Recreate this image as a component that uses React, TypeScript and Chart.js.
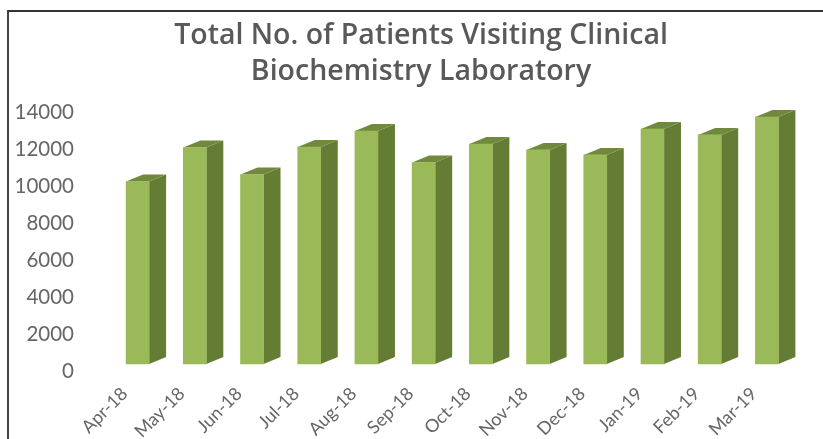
import React, { useEffect, useRef } from "react";
import { Chart, registerables } from "chart.js";

Chart.register(...registerables);

const months = ["Apr-18", "May-18", "Jun-18", "Jul-18", "Aug-18", "Sep-18", "Oct-18", "Nov-18", "Dec-18", "Jan-19", "Feb-19", "Mar-19"];
const patients = [10240, 12080, 10620, 12110, 12970, 11270, 12270, 11950, 11680, 13080, 12760, 13730];
const titleLines = ["Total No. of Patients Visiting Clinical", "Biochemistry Laboratory"];
const floorValue = 378;

const DEPTH_X = 17;
const DEPTH_Y = 7;

const bar3d = {
  id: "bar3d",
  afterLayout(chart: any) {
    // widen the y axis box leftwards so its long tick labels are not clipped
    chart.scales.y.left = 0;
  },
  beforeDatasetsDraw(chart: any) {
    const { ctx } = chart;
    const bars = chart.getDatasetMeta(0).data;
    ctx.save();
    bars.forEach((b: any) => {
      const l = b.x - b.width / 2;
      const r = b.x + b.width / 2;
      ctx.fillStyle = "#647c33";
      ctx.beginPath();
      ctx.moveTo(r, b.y);
      ctx.lineTo(r + DEPTH_X, b.y - DEPTH_Y);
      ctx.lineTo(r + DEPTH_X, b.base - DEPTH_Y);
      ctx.lineTo(r, b.base);
      ctx.closePath();
      ctx.fill();
      ctx.fillStyle = "#70893c";
      ctx.beginPath();
      ctx.moveTo(l, b.y);
      ctx.lineTo(l + DEPTH_X, b.y - DEPTH_Y);
      ctx.lineTo(r + DEPTH_X, b.y - DEPTH_Y);
      ctx.lineTo(r, b.y);
      ctx.closePath();
      ctx.fill();
    });
    ctx.restore();
  },
};

export default function App() {
  const ref = useRef<HTMLCanvasElement>(null);
  useEffect(() => {
    const chart = new Chart(ref.current!, {
      type: "bar",
      data: {
        labels: months,
        datasets: [
          {
            data: patients,
            base: floorValue,
            backgroundColor: "#9aba59",
            barThickness: 23,
          } as any,
        ],
      },
      plugins: [bar3d],
      options: {
        responsive: false,
        animation: false,
        layout: { padding: { left: 46.5, right: 27.5, top: 0, bottom: 0 } },
        plugins: {
          legend: { display: false },
          tooltip: { enabled: false },
          title: {
            display: true,
            text: titleLines,
            color: "#595959",
            font: { family: "Open Sans", size: 28.5, weight: 600, lineHeight: 1.263 },
            padding: { top: 18, bottom: 22 },
          },
        },
        scales: {
          x: {
            grid: { display: false },
            border: { display: false },
            afterFit(s: any) {
              s.height = 68;
            },
            ticks: {
              color: "#666666",
              font: { family: "Lato", size: 18 },
              maxRotation: 45,
              minRotation: 45,
              padding: 4,
              labelOffset: -13,
            },
          },
          y: {
            min: 0,
            max: 14000,
            grid: { display: false },
            border: { display: false },
            afterFit(s: any) {
              s.width = 62.5;
            },
            ticks: {
              stepSize: 2000,
              color: "#666666",
              font: { family: "Lato", size: 20.5 },
              padding: 27,
              callback: (v: any) => String(v),
            },
          },
        },
      },
    } as any);
    return () => chart.destroy();
  }, []);

  return (
    <div style={{ position: "absolute", left: 0, top: 0, width: 823, height: 439, background: "#fff", overflow: "hidden" }}>
      <canvas ref={ref} width={823} height={439} style={{ display: "block" }} />
      <div
        style={{
          position: "absolute",
          left: 7,
          top: 10,
          width: 830,
          height: 440,
          boxSizing: "border-box",
          borderTop: "2px solid #333",
          borderLeft: "2px solid #444",
        }}
      />
    </div>
  );
}
